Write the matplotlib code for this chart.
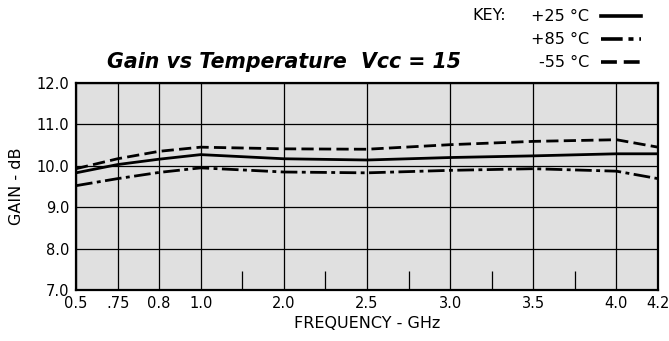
import numpy as np
import matplotlib.pyplot as plt

plt.rcParams['font.family'] = ['DejaVu Sans']

# frequency axis is drawn piecewise (uneven spacing like the datasheet)
freq_ticks = [0.5, 0.75, 0.8, 1.0, 2.0, 2.5, 3.0, 3.5, 4.0, 4.2]
tick_labels = ["0.5", ".75", "0.8", "1.0", "2.0", "2.5", "3.0", "3.5", "4.0", "4.2"]
tick_pos = [0, 1, 2, 3, 5, 7, 9, 11, 13, 14]
minor_freqs = [1.5, 2.25, 2.75, 3.25, 3.75]

freq = [0.5, 0.75, 0.8, 1.0, 2.0, 2.5, 3.0, 3.5, 4.0, 4.2]
gain_p25 = [9.83, 10.03, 10.16, 10.27, 10.17, 10.14, 10.20, 10.24, 10.29, 10.29]
gain_p85 = [9.52, 9.69, 9.84, 9.95, 9.85, 9.83, 9.89, 9.93, 9.87, 9.69]
gain_m55 = [9.93, 10.17, 10.35, 10.45, 10.41, 10.40, 10.51, 10.59, 10.63, 10.45]


def fwd(x):
    return np.interp(x, freq_ticks, tick_pos)


def inv(p):
    return np.interp(p, tick_pos, freq_ticks)


fig = plt.figure(figsize=(6.69, 3.41), dpi=100)
ax = fig.add_axes([76 / 669, 1 - 290 / 341, 582 / 669, 207 / 341])
ax.set_xscale('function', functions=(fwd, inv))
ax.set_facecolor('#e0e0e0')

l1, = ax.plot(freq, gain_p25, color='black', lw=2.0)
l2, = ax.plot(freq, gain_p85, color='black', lw=2.0, dashes=(6, 1.6, 1.4, 1.6))
l3, = ax.plot(freq, gain_m55, color='black', lw=2.0, dashes=(4.4, 1.9))

ax.set_xlim(0.5, 4.2)
ax.set_ylim(7, 12)
ax.set_xticks(freq_ticks)
ax.set_xticklabels(tick_labels)
ax.set_xticks(minor_freqs, minor=True)
ax.set_yticks([7, 8, 9, 10, 11, 12])
ax.set_yticklabels(["7.0", "8.0", "9.0", "10.0", "11.0", "12.0"])
ax.grid(True, which='major', color='black', lw=0.9)
ax.tick_params(which='major', length=0, labelsize=10.5, pad=5)
ax.tick_params(axis='x', which='major', pad=4)
ax.tick_params(which='minor', direction='in', length=14, width=0.9, color='black')
for s in ax.spines.values():
    s.set_linewidth(1.6)

ax.set_xlabel("FREQUENCY - GHz", fontsize=11.5, labelpad=4)
ax.set_ylabel("GAIN - dB", fontsize=11.5, labelpad=9)

fig.text(284 / 669, 1 - 62 / 341, "Gain vs Temperature  Vcc = 15",
         fontsize=14.8, fontweight='bold', fontstyle='italic', ha='center', va='center')

fig.text(472 / 669, 1 - 15 / 341, "KEY:", fontsize=11.5, ha='left', va='center')
leg = fig.legend([l1, l2, l3], ["+25 °C", "+85 °C", "-55 °C"], loc='upper right',
                 bbox_to_anchor=(652 / 669, 1 + 2 / 341), frameon=False, markerfirst=False,
                 fontsize=11.5, handlelength=2.5, handletextpad=0.75, labelspacing=0.5,
                 borderpad=0.2)
for h in leg.legend_handles:
    h.set_linewidth(2.6)

fig.savefig("out.png", dpi=100)
